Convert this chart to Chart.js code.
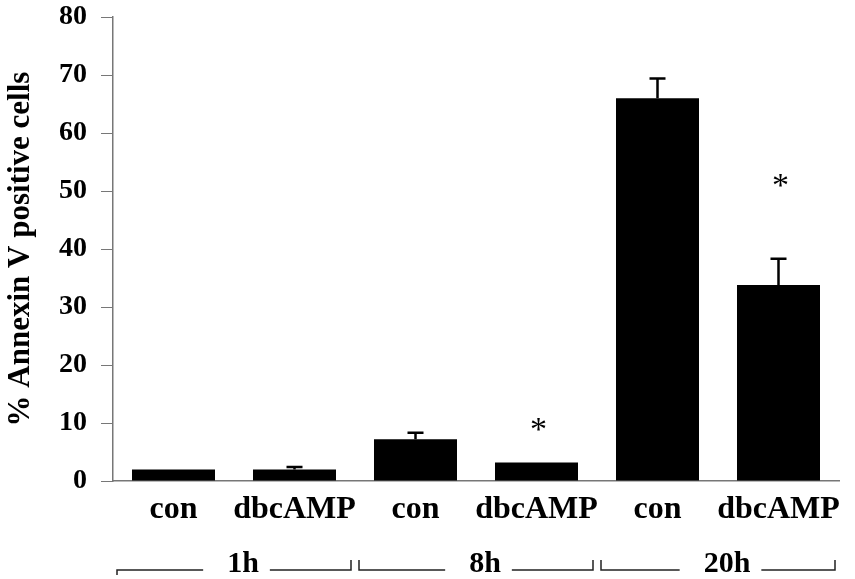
<!DOCTYPE html>
<html>
<head>
<meta charset="utf-8">
<script src="https://cdn.jsdelivr.net/npm/chart.js@4/dist/chart.umd.min.js"></script>
<style>
html,body{margin:0;padding:0;background:#fff;}
#wrap{width:855px;height:579px;position:relative;}
</style>
</head>
<body>
<div id="wrap"><canvas id="c" width="855" height="579"></canvas></div>
<script>
const categories = ["con", "dbcAMP", "con", "dbcAMP", "con", "dbcAMP"];
const values = [2.0, 2.0, 7.2, 3.2, 66.0, 33.8];
const errors = [0, 0.4, 1.1, 0, 3.4, 4.5];
const asteriskAt = [null, null, null, 9.3, null, 51.4];
const groups = ["1h", "8h", "20h"];
const yTicks = [0, 10, 20, 30, 40, 50, 60, 70, 80];

const SERIF = '"Liberation Serif", "Times New Roman", serif';
const PLOT_TOP = 17;

const fixTop = {
  id: 'fixTop',
  afterLayout(chart) {
    const y = chart.scales.y;
    if (y.top !== PLOT_TOP) {
      y.top = PLOT_TOP;
      y.height = y.bottom - y.top;
      chart.chartArea.top = PLOT_TOP;
      chart.chartArea.height = chart.chartArea.bottom - PLOT_TOP;
      y.configure();
    }
  }
};

const annot = {
  id: 'annot',
  afterDatasetsDraw(chart) {
    const ctx = chart.ctx;
    const x = chart.scales.x, y = chart.scales.y;
    ctx.save();
    // error bars
    ctx.strokeStyle = '#000';
    ctx.lineWidth = 2.5;
    values.forEach((v, i) => {
      if (!errors[i]) return;
      const cx = x.getPixelForValue(i);
      const yt = y.getPixelForValue(v + errors[i]);
      const yb = y.getPixelForValue(v);
      ctx.beginPath();
      ctx.moveTo(cx, yb); ctx.lineTo(cx, yt);
      ctx.moveTo(cx - 8, yt); ctx.lineTo(cx + 8, yt);
      ctx.stroke();
    });
    // asterisks
    ctx.fillStyle = '#000';
    ctx.font = '34px ' + SERIF;
    ctx.textAlign = 'center';
    ctx.textBaseline = 'alphabetic';
    asteriskAt.forEach((a, i) => {
      if (a == null) return;
      ctx.fillText('*', x.getPixelForValue(i) + 2, y.getPixelForValue(a) + 13);
    });
    // group brackets
    ctx.font = 'bold 30px ' + SERIF;
    ctx.strokeStyle = '#222';
    ctx.lineWidth = 1.5;
    const ly = 570, ty = 560;
    groups.forEach((g, gi) => {
      const c = (x.getPixelForValue(gi * 2) + x.getPixelForValue(gi * 2 + 1)) / 2;
      const L = Math.max(c - 117, 117), R = Math.min(c + 117, 853);
      const tc = (L + R) / 2 + 9;
      const w = ctx.measureText(g).width;
      ctx.fillText(g, tc, 572);
      ctx.beginPath();
      ctx.moveTo(L, gi === 0 ? 575 : ty); ctx.lineTo(L, ly); ctx.lineTo(tc - w / 2 - 24, ly);
      ctx.moveTo(tc + w / 2 + 11, ly); ctx.lineTo(R, ly); ctx.lineTo(R, ty);
      ctx.stroke();
    });
    ctx.restore();
  }
};

new Chart(document.getElementById('c'), {
  type: 'bar',
  data: {
    labels: categories,
    datasets: [{
      data: values,
      backgroundColor: '#000',
      borderWidth: 0,
      barPercentage: 1,
      categoryPercentage: 0.686
    }]
  },
  options: {
    responsive: false,
    animation: false,
    layout: { padding: { top: 11, right: 16, left: 0, bottom: 0 } },
    plugins: { legend: { display: false }, tooltip: { enabled: false } },
    scales: {
      x: {
        grid: { display: false, drawTicks: false },
        border: { color: '#777', width: 1.5 },
        ticks: {
          color: '#000',
          padding: 10,
          maxRotation: 0,
          autoSkip: false,
          font: { family: SERIF, size: 32, weight: 'bold' }
        },
        afterFit(s) { s.height = 98; }
      },
      y: {
        min: 0, max: 80,
        afterBuildTicks(s) { s.ticks = yTicks.map(v => ({ value: v })); },
        grid: { drawOnChartArea: false, tickLength: 12, color: '#777', lineWidth: 1 },
        border: { color: '#777', width: 1.5 },
        ticks: {
          color: '#000',
          padding: 14,
          font: { family: SERIF, size: 28, weight: 'bold', lineHeight: 0.8 }
        },
        title: {
          display: true,
          text: '% Annexin V positive cells',
          color: '#000',
          padding: { top: 2, bottom: 0 },
          font: { family: SERIF, size: 31, weight: 'bold' }
        },
        afterFit(s) { s.width = 113; }
      }
    }
  },
  plugins: [fixTop, annot]
});
</script>
</body>
</html>
